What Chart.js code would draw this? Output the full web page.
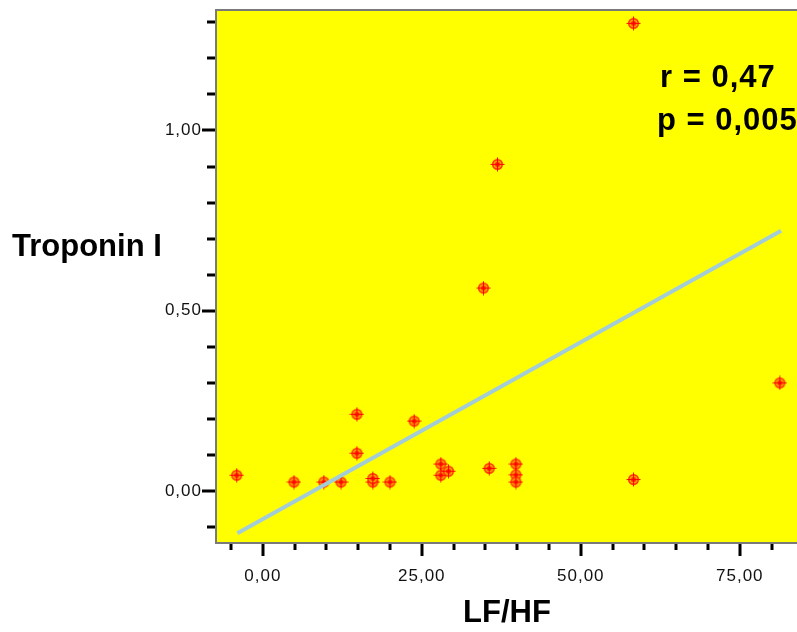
<!DOCTYPE html>
<html>
<head>
<meta charset="utf-8">
<script src="https://cdn.jsdelivr.net/npm/chart.js@4.4.1/dist/chart.umd.min.js"></script>
<style>
html, body { margin: 0; padding: 0; background: #fff; }
#wrap { width: 797px; height: 632px; }
</style>
</head>
<body>
<div id="wrap"><canvas id="chart" width="797" height="632"></canvas></div>
<script>
// values
const lfhf = [-4.1, 4.9, 9.6, 12.3, 14.8, 14.8, 17.3, 17.3, 20.0, 23.8, 28.0, 28.0, 29.2,
  34.7, 35.6, 36.9, 39.8, 39.8, 39.8, 58.3, 58.3, 81.3];
const troponin = [0.044, 0.025, 0.025, 0.025, 0.213, 0.105, 0.025, 0.035, 0.025, 0.194, 0.075, 0.044, 0.055,
  0.563, 0.063, 0.906, 0.075, 0.045, 0.025, 1.297, 0.032, 0.30];

// fit line end points
const fitX = [-4.0, 81.5];
const fitY = [-0.117, 0.722];

const xTickValues = [-5, 0, 5, 10, 15, 20, 25, 30, 35, 40, 45, 50, 55, 60, 65, 70, 75, 80];
const yTickValues = [-0.1, 0, 0.1, 0.2, 0.3, 0.4, 0.5, 0.6, 0.7, 0.8, 0.9, 1.0, 1.1, 1.2, 1.3];
const xLabelValues = [0, 25, 50, 75];
const yLabelValues = [0, 0.5, 1.0];

const xTitle = 'LF/HF';
const yTitle = 'Troponin I';
const statLines = ['r = 0,47', 'p = 0,005'];

function isLabel(v, list) {
  return list.some(l => Math.abs(l - v) < 1e-6);
}
function fmt(v) {
  return v.toFixed(2).replace('.', ',');
}

// red marker with orange ring
function makeMarker() {
  const c = document.createElement('canvas');
  c.width = 15; c.height = 15;
  const g = c.getContext('2d');
  g.fillStyle = '#ff2a00';
  g.beginPath(); g.arc(7.5, 7.5, 5.5, 0, Math.PI * 2); g.fill();
  g.strokeStyle = '#ffa200';
  g.lineWidth = 1.6;
  g.beginPath(); g.arc(7.5, 7.5, 3.3, 0, Math.PI * 2); g.stroke();
  g.fillStyle = '#ff0000';
  g.fillRect(6.5, 6.5, 2, 2);
  g.strokeStyle = '#ff0000';
  g.lineWidth = 1;
  g.beginPath();
  g.moveTo(0.5, 7.5); g.lineTo(14.5, 7.5);
  g.moveTo(7.5, 0.5); g.lineTo(7.5, 14.5);
  g.stroke();
  return c;
}

function noPad(s) {
  s.paddingTop = 0; s.paddingBottom = 0;
  s.paddingLeft = 0; s.paddingRight = 0;
}

const framePlugin = {
  id: 'frame',
  beforeDraw(chart) {
    const { ctx, chartArea: a } = chart;
    ctx.save();
    ctx.fillStyle = '#ffff00';
    ctx.fillRect(a.left, a.top, a.right - a.left, a.bottom - a.top);
    ctx.restore();
    // wider spacing for the tick labels
    ctx.letterSpacing = '1px';
  },
  afterDraw(chart) {
    const { ctx, chartArea: a } = chart;
    const xs = chart.scales.x, ys = chart.scales.y;
    ctx.save();
    // frame
    ctx.strokeStyle = '#7a7a7a';
    ctx.lineWidth = 2;
    ctx.beginPath();
    ctx.moveTo(a.right, a.top); ctx.lineTo(a.left, a.top);
    ctx.lineTo(a.left, a.bottom); ctx.lineTo(a.right, a.bottom);
    ctx.stroke();
    // tick marks
    ctx.fillStyle = '#000';
    yTickValues.forEach(v => {
      const py = Math.round(ys.getPixelForValue(v));
      const len = isLabel(v, yLabelValues) ? 13 : 8;
      ctx.fillRect(a.left - 1 - len, py - 1.5, len, 3);
    });
    xTickValues.forEach(v => {
      const px = Math.round(xs.getPixelForValue(v));
      const len = isLabel(v, xLabelValues) ? 12 : 6;
      ctx.fillRect(px - 1.5, a.bottom + 1, 3, len);
    });
    // titles
    ctx.letterSpacing = '0px';
    ctx.font = 'bold 31px "Liberation Sans", Arial, sans-serif';
    ctx.textBaseline = 'alphabetic';
    ctx.textAlign = 'left';
    ctx.fillText(yTitle, 12, 256);
    ctx.textAlign = 'center';
    ctx.fillText(xTitle, 507, 622);
    ctx.textAlign = 'left';
    ctx.letterSpacing = '1px';
    ctx.fillText(statLines[0], 660, 87);
    ctx.fillText(statLines[1], 657, 130);
    ctx.restore();
  }
};

new Chart(document.getElementById('chart'), {
  type: 'scatter',
  data: {
    datasets: [
      {
        type: 'line',
        data: fitX.map((x, i) => ({ x: x, y: fitY[i] })),
        borderColor: '#a3cdd6',
        borderWidth: 4,
        pointRadius: 0,
        fill: false
      },
      {
        data: lfhf.map((x, i) => ({ x: x, y: troponin[i] })),
        pointStyle: makeMarker(),
        pointRadius: 7
      }
    ]
  },
  options: {
    responsive: false,
    animation: false,
    layout: { autoPadding: false, padding: { top: 10, right: 0, left: 0, bottom: 0 } },
    plugins: { legend: { display: false }, tooltip: { enabled: false } },
    scales: {
      x: {
        type: 'linear',
        min: -7.36,
        max: 84.0,
        afterFit: s => { s.height = 89; noPad(s); },
        afterBuildTicks: s => { s.ticks = xTickValues.map(v => ({ value: v })); },
        grid: { display: false, drawTicks: false },
        border: { display: false },
        ticks: {
          autoSkip: false,
          maxRotation: 0,
          padding: 23,
          color: '#111',
          font: { family: '"Liberation Sans", Arial, sans-serif', size: 17 },
          callback: v => isLabel(v, xLabelValues) ? fmt(v) : ''
        }
      },
      y: {
        type: 'linear',
        min: -0.144,
        max: 1.334,
        afterFit: s => { s.width = 216; noPad(s); },
        afterBuildTicks: s => { s.ticks = yTickValues.map(v => ({ value: v })); },
        grid: { display: false, drawTicks: false },
        border: { display: false },
        ticks: {
          autoSkip: false,
          padding: 14,
          color: '#111',
          font: { family: '"Liberation Sans", Arial, sans-serif', size: 17 },
          callback: v => isLabel(v, yLabelValues) ? fmt(v) : ''
        }
      }
    }
  },
  plugins: [framePlugin]
});
</script>
</body>
</html>
